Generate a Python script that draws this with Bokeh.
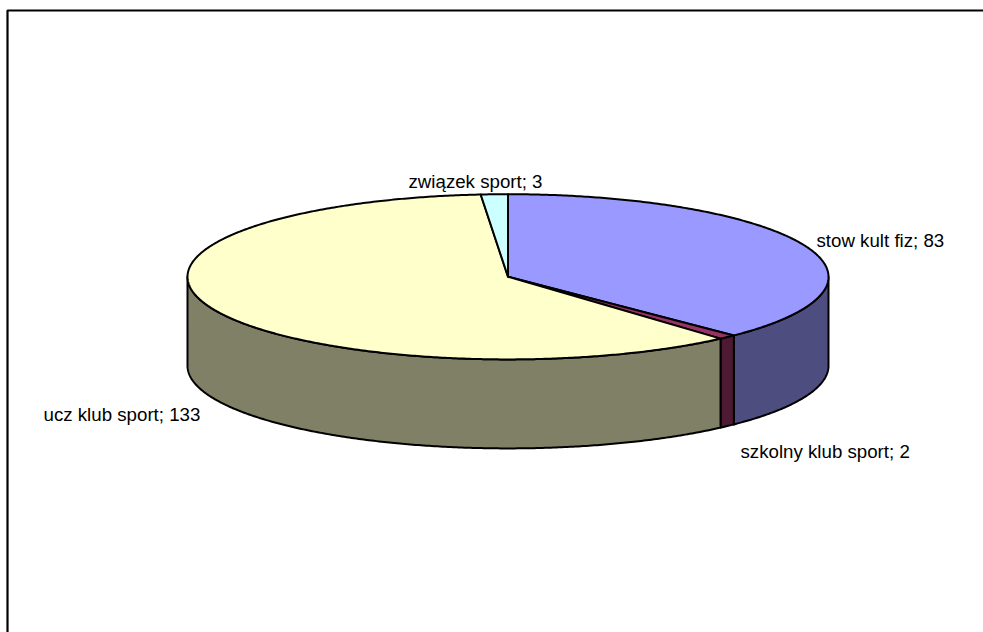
import numpy as np
from bokeh.plotting import figure
from bokeh.models import Range1d
from bokeh.core.properties import value
from bokeh.embed import file_html
from bokeh.resources import INLINE

categories = ["stow kult fiz", "szkolny klub sport", "ucz klub sport", "związek sport"]
values = [83, 2, 133, 3]
top_colors = ["#9999FF", "#993366", "#FFFFCC", "#CCFFFF"]
side_colors = ["#4D4D80", "#4D1933", "#808066", "#668080"]
label_x = [816, 740, 43, 408]
label_y = [240, 451, 414, 181]

CX, CY, RX, RY, DEPTH = 507.5, 276.3, 320.5, 82.6, 89.0
W, H = 983, 632

p = figure(width=W, height=H, output_backend="svg", toolbar_location=None,
           x_range=Range1d(0, W), y_range=Range1d(H, 0),
           x_axis_type=None, y_axis_type=None, min_border=0,
           background_fill_color="white", border_fill_color="white")
p.grid.visible = False
p.outline_line_color = None
p.margin = (0, 0, 0, 0)


def arc_points(a0, a1):
    n = max(2, int(abs(a1 - a0) * 2) + 2)
    t = np.radians(np.linspace(a0, a1, n))
    return CX + RX * np.sin(t), CY - RY * np.cos(t)


# frame (open at right and bottom, as the picture is cropped there)
p.line([7, 7, W + 10], [H + 10, 10, 10], line_color="black", line_width=2.2)

total = sum(values)
edges = np.concatenate([[0], np.cumsum(values) / total * 360.0])

# side walls (only the front half of the rim, 90..270 degrees clockwise from top)
for i in range(len(values)):
    a0, a1 = max(edges[i], 90.0), min(edges[i + 1], 270.0)
    if a1 <= a0:
        continue
    x, y = arc_points(a0, a1)
    p.patch(np.concatenate([x, x[::-1]]), np.concatenate([y, y[::-1] + DEPTH]),
            fill_color=side_colors[i], line_color="black", line_width=2, line_join="round")

# top face
for i in range(len(values)):
    x, y = arc_points(edges[i], edges[i + 1])
    p.patch(np.concatenate([[CX], x]), np.concatenate([[CY], y]),
            fill_color=top_colors[i], line_color="black", line_width=2, line_join="round")

# data labels
labels = [f"{c}; {v}" for c, v in zip(categories, values)]
p.text(label_x, label_y, text=labels, text_font=value("Liberation Sans"),
       text_font_size="18.7px", text_color="black", text_baseline="alphabetic", text_align="left")

open("out.html", "w").write(file_html(p, INLINE))
